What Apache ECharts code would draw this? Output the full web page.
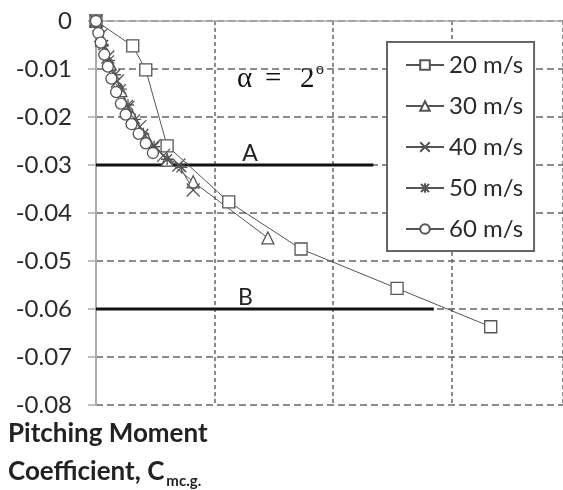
<!DOCTYPE html>
<html>
<head>
<meta charset="utf-8">
<script src="https://cdn.jsdelivr.net/npm/echarts@6/dist/echarts.min.js"></script>
<style>
  html, body { margin: 0; padding: 0; background: #fff; }
  #chart { width: 563px; height: 490px; }
</style>
</head>
<body>
<div id="chart"></div>
<script>
// Wind speeds in the legend
const speeds = ['20 m/s', '30 m/s', '40 m/s', '50 m/s', '60 m/s'];

// Horizontal position of each measured point, per speed
const x20 = [0, 0.31, 0.42, 0.60, 1.12, 1.73, 2.54, 3.33];
const x30 = [0, 0.05, 0.12, 0.21, 0.31, 0.43, 0.60, 0.82, 1.45];
const x40 = [0, 0.04, 0.10, 0.18, 0.27, 0.37, 0.49, 0.57, 0.70, 0.82];
const x50 = [0, 0.02, 0.06, 0.11, 0.16, 0.21, 0.27, 0.33, 0.40, 0.49, 0.60, 0.72];
const x60 = [0, 0.02, 0.04, 0.07, 0.10, 0.13, 0.17, 0.21, 0.25, 0.30, 0.36, 0.42, 0.48];

// Pitching moment coefficient Cm c.g. per speed
const cm20 = [0, -0.0052, -0.0102, -0.0260, -0.0377, -0.0475, -0.0557, -0.0637];
const cm30 = [0, -0.0040, -0.0090, -0.0145, -0.0200, -0.0245, -0.0290, -0.0335, -0.0452];
const cm40 = [0, -0.0030, -0.0075, -0.0125, -0.0180, -0.0220, -0.0260, -0.0280, -0.0300, -0.0352];
const cm50 = [0, -0.0020, -0.0050, -0.0082, -0.0112, -0.0142, -0.0175, -0.0205, -0.0235, -0.0262, -0.0288, -0.0305];
const cm60 = [0, -0.0025, -0.0045, -0.0070, -0.0095, -0.0120, -0.0148, -0.0172, -0.0195, -0.0215, -0.0235, -0.0255, -0.0275];

// Reference levels A and B
const refNames = ['A', 'B'];
const refLevels = [-0.03, -0.06];
const refEnds = [2.34, 2.85];
const refLabelX = [1.30, 1.26];

// Y axis ticks
const yMin = -0.08, yMax = 0, yStep = 0.01;

const xs = [x20, x30, x40, x50, x60];
const cms = [cm20, cm30, cm40, cm50, cm60];
const symbols = [
  'rect',
  'triangle',
  'path://M0,0L10,10M10,0L0,10',
  'path://M0,0L10,10M10,0L0,10M5,-1L5,11M-1,5L11,5',
  'circle'
];
const symbolSizes = [12, 12, 13, 12, 11];

const pair = (a, b) => a.map((v, i) => [v, b[i]]);

const series = speeds.map((name, k) => ({
  name: name,
  type: 'line',
  data: pair(xs[k], cms[k]),
  symbol: symbols[k],
  symbolSize: symbolSizes[k],
  showAllSymbol: true,
  lineStyle: { color: '#555', width: 1 },
  itemStyle: { color: '#fff', borderColor: '#555', borderWidth: 1.3 },
  z: 3
}));

refNames.forEach((n, i) => {
  series.push({
    name: 'ref ' + n,
    type: 'line',
    data: [[0, refLevels[i]], [refEnds[i], refLevels[i]]],
    symbol: 'none',
    silent: true,
    lineStyle: { color: '#111', width: 3 },
    z: 2,
    markPoint: {
      symbol: 'circle',
      symbolSize: 0,
      silent: true,
      data: [{ coord: [refLabelX[i], refLevels[i]], value: n }],
      label: {
        show: true, position: 'top', distance: 0, formatter: n,
        color: '#222', fontSize: 23, fontFamily: 'Lato'
      }
    }
  });
});

// place the subscript right after the "C"
const titleFont = 'bold 26px Lato';
const measure = document.createElement('canvas').getContext('2d');
measure.font = titleFont;
const line2 = 'Coefficient, C';
const subLeft = 8 + measure.measureText(line2).width + 2;

const chart = echarts.init(document.getElementById('chart'), null, { renderer: 'canvas' });
chart.setOption({
  animation: false,
  backgroundColor: '#fff',
  grid: { left: 96, top: 21, right: 0, bottom: 85, containLabel: false },
  xAxis: {
    type: 'value',
    position: 'top',
    min: 0, max: 3.94, interval: 1,
    axisLine: { show: true, onZero: false, lineStyle: { color: '#aaa', width: 1.5 } },
    axisTick: { show: false },
    axisLabel: { show: false },
    splitLine: { show: true, lineStyle: { color: '#666', width: 1.5, type: [4, 3] } }
  },
  yAxis: {
    type: 'value',
    min: yMin, max: yMax, interval: yStep,
    axisLine: { show: true, onZero: false, lineStyle: { color: '#aaa', width: 2 } },
    axisTick: { show: true, length: 8, lineStyle: { color: '#aaa', width: 1.5 } },
    axisLabel: {
      margin: 24, color: '#2a2a2a', fontSize: 24, fontFamily: 'Lato',
      formatter: v => (Math.abs(v) < 1e-9 ? '0' : v.toFixed(2))
    },
    splitLine: { show: true, lineStyle: { color: '#666', width: 1.5, type: [7, 4] } }
  },
  legend: {
    data: speeds,
    orient: 'vertical',
    left: 387, top: 42,
    padding: [11, 11, 10, 18],
    itemWidth: 38, itemHeight: 12, itemGap: 17,
    backgroundColor: '#fff',
    borderColor: '#666', borderWidth: 2,
    textStyle: { color: '#2a2a2a', fontSize: 24, fontFamily: 'Lato', lineHeight: 22 }
  },
  graphic: [
    { type: 'text', left: 237, top: 65, style: { text: 'α', fontSize: 29, fontFamily: 'Liberation Serif', fill: '#111' } },
    { type: 'text', left: 265, top: 65, style: { text: '=', fontSize: 29, fontFamily: 'Liberation Serif', fill: '#111' } },
    { type: 'text', left: 300, top: 65, style: { text: '2', fontSize: 29, fontFamily: 'Liberation Serif', fill: '#111' } },
    { type: 'text', left: 316, top: 62, style: { text: 'o', fontSize: 16, fontFamily: 'Liberation Serif', fill: '#111' } },
    { type: 'text', left: 8, top: 421, style: { text: 'Pitching Moment', font: titleFont, fill: '#222' } },
    { type: 'text', left: 8, top: 459, style: { text: line2, font: titleFont, fill: '#222' } },
    { type: 'text', left: subLeft, top: 474, style: { text: 'mc.g.', font: 'bold 15px Lato', fill: '#222' } }
  ],
  series: series
});
</script>
</body>
</html>
